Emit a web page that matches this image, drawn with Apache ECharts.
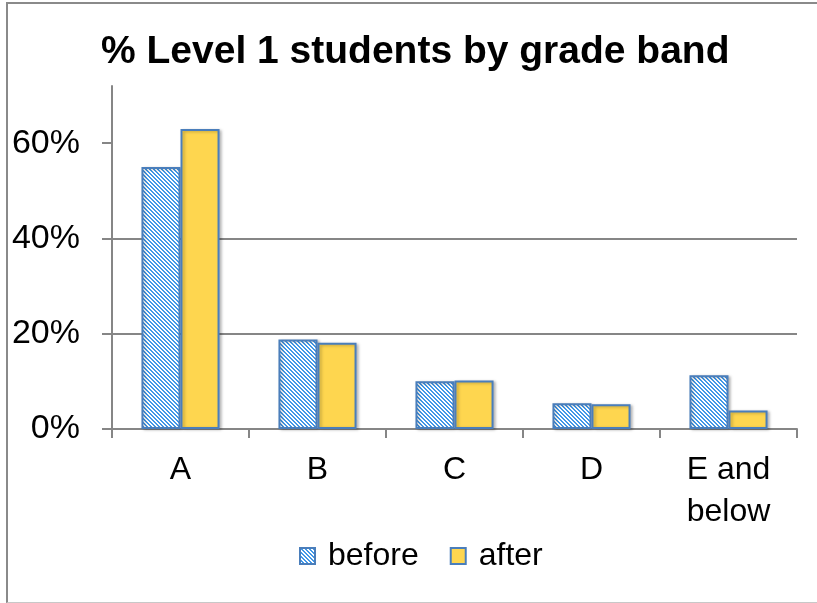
<!DOCTYPE html>
<html>
<head>
<meta charset="utf-8">
<script src="https://cdn.jsdelivr.net/npm/echarts@6/dist/echarts.min.js"></script>
<style>
html,body{margin:0;padding:0;background:#fff;}
#frame{position:absolute;left:6px;top:2px;width:811px;height:598px;border-top:2px solid #8a8a8a;border-left:2px solid #8a8a8a;border-bottom:1px solid #c8c8c8;}
#chart{position:absolute;left:0;top:0;width:817px;height:603px;}
</style>
</head>
<body>
<div id="frame"></div>
<div id="chart"></div>
<script>
const categories = ['A', 'B', 'C', 'D', 'E and\nbelow'];
const beforeValues = [0.55, 0.188, 0.10, 0.054, 0.113];
const afterValues = [0.63, 0.181, 0.102, 0.052, 0.039];
const yTickValues = [0, 0.2, 0.4, 0.6];

function stripePattern() {
  const c = document.createElement('canvas');
  c.width = 8; c.height = 8;
  const ctx = c.getContext('2d');
  const img = ctx.createImageData(8, 8);
  for (let y = 0; y < 8; y++) {
    for (let x = 0; x < 8; x++) {
      const i = (y * 8 + x) * 4;
      const blue = (((x - y) % 4) + 4) % 4 < 2;
      if (blue) { img.data[i] = 66; img.data[i+1] = 152; img.data[i+2] = 232; }
      else { img.data[i] = 255; img.data[i+1] = 255; img.data[i+2] = 255; }
      img.data[i+3] = 255;
    }
  }
  ctx.putImageData(img, 0, 0);
  return c;
}

const chart = echarts.init(document.getElementById('chart'), null, {renderer: 'canvas'});
const axisGrey = '#868686';
const font = 'Liberation Sans, Arial, Helvetica, sans-serif';
const barShadow = {shadowColor: 'rgba(0,0,0,0.25)', shadowBlur: 3, shadowOffsetX: 2, shadowOffsetY: 1};

chart.setOption({
  animation: false,
  backgroundColor: 'transparent',
  title: {
    text: '% Level 1 students by grade band',
    left: 96,
    top: 28,
    textStyle: {fontFamily: font, fontWeight: 'bold', fontSize: 39, color: '#000'}
  },
  legend: {
    left: 294,
    top: 535,
    itemWidth: 15,
    itemHeight: 16,
    itemGap: 31,
    icon: 'rect',
    textStyle: {fontFamily: font, fontSize: 32, color: '#000', padding: [0, 0, 0, 8]},
    data: ['before', 'after']
  },
  grid: {left: 112, right: 20, top: 86, bottom: 174, containLabel: false},
  xAxis: {
    type: 'category',
    data: categories,
    boundaryGap: true,
    axisLine: {lineStyle: {color: axisGrey, width: 2}},
    axisTick: {show: true, length: 9, alignWithLabel: false, lineStyle: {color: axisGrey, width: 2}},
    axisLabel: {fontFamily: font, fontSize: 32, color: '#000', margin: 20, lineHeight: 42, interval: 0}
  },
  yAxis: {
    type: 'value',
    min: 0,
    max: 0.72,
    interval: 0.2,
    axisLine: {show: true, lineStyle: {color: axisGrey, width: 2}},
    axisTick: {show: true, length: 10, customValues: yTickValues, lineStyle: {color: axisGrey, width: 2}},
    axisLabel: {
      fontFamily: font, fontSize: 34, color: '#000', margin: 32,
      customValues: yTickValues,
      formatter: v => (Math.abs(v * 100 - Math.round(v * 100 / 20) * 20) < 0.01 ? Math.round(v * 100) + '%' : '')
    },
    splitLine: {show: true, showMinLine: false, showMaxLine: false, lineStyle: {color: axisGrey, width: 2}}
  },
  series: [
    {
      name: 'before',
      type: 'bar',
      data: beforeValues,
      barGap: '0%',
      barCategoryGap: '43%',
      itemStyle: Object.assign({color: {image: stripePattern(), repeat: 'repeat'}, borderColor: '#4a7ebb', borderWidth: 2}, barShadow)
    },
    {
      name: 'after',
      type: 'bar',
      data: afterValues,
      barGap: '0%',
      barCategoryGap: '43%',
      itemStyle: Object.assign({color: '#fed64f', borderColor: '#4a7ebb', borderWidth: 2}, barShadow)
    }
  ]
});
</script>
</body>
</html>
